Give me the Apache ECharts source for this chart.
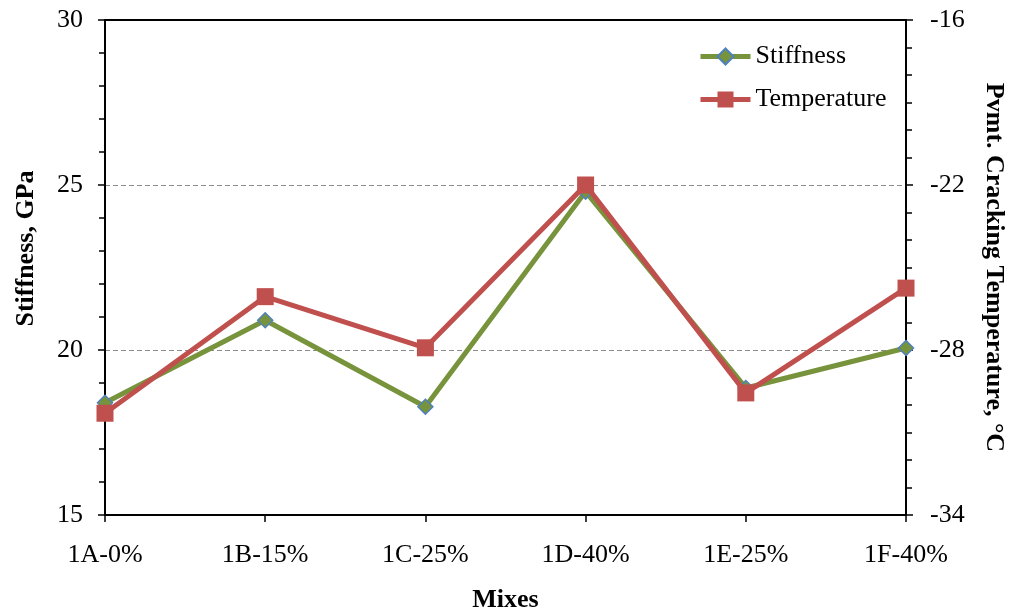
<!DOCTYPE html>
<html>
<head>
<meta charset="utf-8">
<script src="https://cdn.jsdelivr.net/npm/echarts@6/dist/echarts.min.js"></script>
<style>html,body{margin:0;padding:0;background:#fff}#c{width:1010px;height:614px}</style>
</head>
<body>
<div id="c"></div>
<script>
const categories = ['1A-0%', '1B-15%', '1C-25%', '1D-40%', '1E-25%', '1F-40%'];
const stiffness = [18.4, 20.9, 18.28, 24.8, 18.85, 20.06];
const temperature = [-30.3, -26.06, -27.92, -22.0, -29.56, -25.75];
const leftTicks = { min: 15, max: 30, interval: 5 };
const rightTicks = { min: -34, max: -16, interval: 6 };

const font = 'Liberation Serif, Times New Roman, serif';
const chart = echarts.init(document.getElementById('c'), null, { renderer: 'canvas' });
chart.setOption({
  animation: false,
  backgroundColor: '#fff',
  textStyle: { fontFamily: font },
  grid: { left: 105, right: 104, top: 20, bottom: 99, containLabel: false, outerBoundsMode: 'none' },
  legend: {
    orient: 'vertical',
    left: 693,
    top: 38,
    itemWidth: 50,
    itemHeight: 20,
    itemGap: 16,
    lineStyle: { width: 5 },
    textStyle: { fontFamily: font, fontSize: 26, lineHeight: 27, color: '#000' },
    data: ['Stiffness', 'Temperature']
  },
  xAxis: [{
    type: 'category',
    data: categories,
    boundaryGap: false,
    name: 'Mixes',
    nameLocation: 'middle',
    nameGap: 72,
    nameTextStyle: { fontFamily: font, fontSize: 26, fontWeight: 'bold', color: '#000' },
    axisLine: { lineStyle: { color: '#000', width: 2 } },
    axisTick: { show: true, alignWithLabel: true, length: 7, lineStyle: { color: '#000', width: 1.5 } },
    axisLabel: { fontFamily: font, fontSize: 26, color: '#000', margin: 27 },
    splitLine: { show: false }
  }, {
    type: 'category',
    data: categories,
    boundaryGap: false,
    position: 'top',
    axisLine: { show: true, lineStyle: { color: '#000', width: 2 } },
    axisTick: { show: false },
    axisLabel: { show: false },
    splitLine: { show: false }
  }],
  yAxis: [{
    type: 'value',
    min: leftTicks.min, max: leftTicks.max, interval: leftTicks.interval,
    name: 'Stiffness, GPa',
    nameLocation: 'middle',
    nameGap: 66,
    nameRotate: 90,
    nameTextStyle: { fontFamily: font, fontSize: 26, fontWeight: 'bold', color: '#000', padding: [0, 0, 0, 38] },
    axisLine: { show: true, lineStyle: { color: '#000', width: 2 } },
    axisTick: { show: true, length: 7, lineStyle: { color: '#000', width: 1.5 } },
    minorTick: { show: true, splitNumber: 5, length: 6, lineStyle: { color: '#000', width: 1.5 } },
    axisLabel: { fontFamily: font, fontSize: 26, color: '#000', margin: 22 },
    splitLine: { show: true, lineStyle: { color: '#8c8c8c', type: [5, 3], width: 1 } }
  }, {
    type: 'value',
    position: 'right',
    min: rightTicks.min, max: rightTicks.max, interval: rightTicks.interval,
    name: 'Pvmt. Cracking Temperature, °C',
    nameLocation: 'middle',
    nameGap: 75,
    nameRotate: -90,
    nameTextStyle: { fontFamily: font, fontSize: 26, fontWeight: 'bold', color: '#000' },
    axisLine: { show: true, lineStyle: { color: '#000', width: 2 } },
    axisTick: { show: true, length: 7, lineStyle: { color: '#000', width: 1.5 } },
    minorTick: { show: true, splitNumber: 6, length: 6, lineStyle: { color: '#000', width: 1.5 } },
    axisLabel: { fontFamily: font, fontSize: 26, color: '#000', margin: 24 },
    splitLine: { show: false }
  }],
  series: [{
    name: 'Stiffness',
    type: 'line',
    yAxisIndex: 0,
    data: stiffness,
    symbol: 'diamond',
    symbolSize: 15,
    lineStyle: { color: '#77933C', width: 5 },
    itemStyle: { color: '#77933C', borderColor: '#4F81BD', borderWidth: 1.5 },
    z: 2
  }, {
    name: 'Temperature',
    type: 'line',
    yAxisIndex: 1,
    data: temperature,
    symbol: 'rect',
    symbolSize: 17,
    lineStyle: { color: '#C0504D', width: 5 },
    itemStyle: { color: '#C0504D', borderColor: '#C0504D', borderWidth: 0 },
    z: 3
  }]
});
</script>
</body>
</html>
